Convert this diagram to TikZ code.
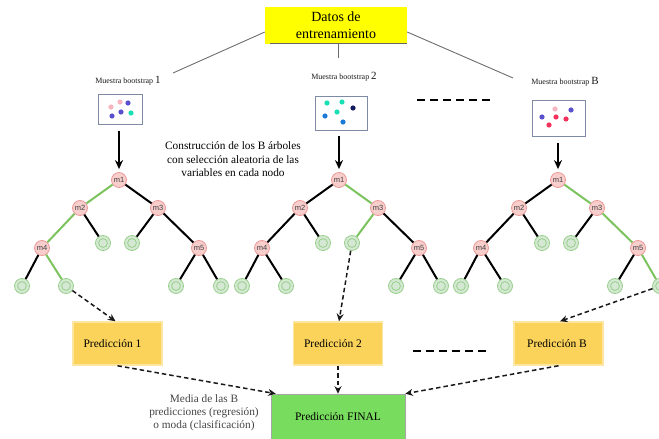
\documentclass[tikz,border=0pt]{standalone}
\usepackage{fontspec}
\setmainfont{Liberation Serif}
\newfontfamily\labelsans{Liberation Sans}
\usetikzlibrary{arrows.meta}

\definecolor{splitfill}{HTML}{F8CECC}
\definecolor{splitline}{HTML}{EA9A98}
\definecolor{leaffill}{HTML}{D5E8D4}
\definecolor{leafline}{HTML}{97D08A}
\definecolor{pathgreen}{HTML}{7CC35E}
\definecolor{datayellow}{HTML}{FFFF00}
\definecolor{predfill}{HTML}{FBD35A}
\definecolor{predline}{HTML}{FCE6A2}
\definecolor{finalgreen}{HTML}{78DC5E}
\definecolor{sampleframe}{HTML}{7F8BA6}
\definecolor{linkgray}{HTML}{6E6E6E}
\definecolor{notegray}{HTML}{444444}
\definecolor{dotpink}{HTML}{F6B5C0}
\definecolor{dotpurple}{HTML}{5A4FCF}
\definecolor{dotteal}{HTML}{1ADFB4}
\definecolor{dotblue}{HTML}{1C7AD6}
\definecolor{dotnavy}{HTML}{121C5E}
\definecolor{dotred}{HTML}{F2325C}

% one decision tree: #1 = name prefix, #2 = horizontal offset
\newcommand{\rftree}[2]{%
  \begin{scope}[xshift=#2pt]
    \node[splitnode] (#1m1) at (119,180) {m1};
    \node[splitnode] (#1m2) at (80,208)  {m2};
    \node[splitnode] (#1m3) at (158,208) {m3};
    \node[splitnode] (#1m4) at (42,248)  {m4};
    \node[splitnode] (#1m5) at (199,248) {m5};
    \node[leafnode]  (#1l1) at (103,243) {};
    \node[leafnode]  (#1l2) at (132,243) {};
    \node[leafnode]  (#1l3) at (22,286)  {};
    \node[leafnode]  (#1l4) at (66,286)  {};
    \node[leafnode]  (#1l5) at (176,286) {};
    \node[leafnode]  (#1l6) at (221,286) {};
  \end{scope}}

\begin{document}
\begin{tikzpicture}[x=1pt,y=-1pt,
  splitnode/.style={circle, minimum size=15pt, inner sep=0pt, fill=splitfill,
    draw=splitline, line width=0.8pt, text=black!75,
    font=\labelsans\fontsize{7.5}{8}\selectfont},
  leafnode/.style={circle, minimum size=15pt, inner sep=0pt, fill=leaffill,
    draw=leafline, line width=0.8pt,
    path picture={\draw[leafline, line width=0.8pt]
      (path picture bounding box.center) circle (4.4pt);}},
  blackedge/.style={draw=black, line width=2pt},
  greenedge/.style={draw=pathgreen, line width=2pt},
  topbox/.style={fill=datayellow, minimum width=142pt, minimum height=37pt,
    inner sep=0pt, align=center, font=\fontsize{14}{17}\selectfont},
  samplebox/.style={draw=sampleframe, line width=1pt, fill=white, inner sep=0pt},
  samplelabel/.style={inner sep=0pt, text=black!90,
    font=\fontsize{8}{9}\selectfont},
  linkline/.style={draw=linkgray, line width=0.9pt},
  bigarrow/.style={draw=black, line width=2pt,
    -{Stealth[length=9pt,width=8pt]}},
  separator/.style={draw=black, line width=2.6pt, dash pattern=on 8pt off 5pt},
  note/.style={align=center, inner sep=0pt, text=black,
    font=\fontsize{11.3}{13.5}\selectfont},
  mediatext/.style={align=center, inner sep=0pt, text=notegray,
    font=\fontsize{11.3}{13}\selectfont},
  predbox/.style={fill=predfill, draw=predline, line width=1.5pt,
    minimum width=89pt, minimum height=43pt, inner sep=0pt,
    font=\fontsize{11.5}{13}\selectfont},
  finalbox/.style={fill=finalgreen, draw=black!35, line width=0.6pt,
    minimum width=134pt, minimum height=45pt, inner sep=0pt,
    font=\fontsize{11.5}{13}\selectfont},
  flow/.style={draw=black!90, line width=1.5pt, dash pattern=on 4.5pt off 3pt,
    -{Stealth[length=7.5pt,width=7pt]}}
]
\useasboundingbox (0,0) rectangle (659,439);
\clip (0,0) rectangle (659,439);

% training data and the three bootstrap samples
\node[topbox] (data) at (336,25) {Datos de\\entrenamiento};
\draw[black!60, line width=1pt] ([xshift=5pt]data.south west) -- (data.south east);

\coordinate (c1) at (173,73);
\coordinate (c2) at (338,58);
\coordinate (cB) at (513,78);
\draw[linkline] ([yshift=-7pt]data.west) -- (c1);
\draw[linkline] (c2 |- data.south) -- (c2);
\draw[linkline] ([yshift=-7pt]data.east) -- (cB);

\node[samplelabel] (lab1) at (128,81) {Muestra bootstrap {\fontsize{11}{11}\selectfont 1}};
\node[samplelabel] (lab2) at (344,77) {Muestra bootstrap {\fontsize{11}{11}\selectfont 2}};
\node[samplelabel] (labB) at (565,82) {Muestra bootstrap {\fontsize{11}{11}\selectfont B}};

\node[samplebox, minimum width=44pt, minimum height=30pt] (s1) at (120,109) {};
\node[samplebox, minimum width=52pt, minimum height=34pt] (s2) at (341,113) {};
\node[samplebox, minimum width=53pt, minimum height=36pt] (sB) at (558.5,118) {};

% points drawn in each sample
\foreach \px/\py/\c in {111/107/dotpink, 120/102/dotpink, 128/103/dotpurple,
    121/112/dotpurple, 131/113/dotteal, 112/116/dotpurple,
    327/103/dotteal, 342/102/dotteal, 353/108/dotnavy,
    325/116/dotblue, 337/112/dotteal, 343/122/dotblue,
    542/117/dotpurple, 555/109/dotpink, 571/110/dotpurple,
    556/117/dotred, 566/119/dotred, 549/125/dotred}
  \fill[\c] (\px,\py) circle (2.6pt);

\coordinate (dA) at (417,100);
\coordinate (dB) at (490,100);
\draw[separator] (dA) -- (dB);

\node[note] (build) at (233,159.5) {Construcción de los B árboles\\con selección aleatoria de las\\variables en cada nodo};

% the B trees
\rftree{t1}{0}
\rftree{t2}{220}
\rftree{t3}{439}

\foreach \a/\b/\s in {m1/m2/greenedge, m1/m3/blackedge, m2/m4/greenedge,
    m2/l1/blackedge, m3/l2/blackedge, m3/m5/blackedge, m4/l3/blackedge,
    m4/l4/greenedge, m5/l5/blackedge, m5/l6/blackedge}
  \draw[\s] (t1\a) -- (t1\b);
\foreach \a/\b/\s in {m1/m2/blackedge, m1/m3/greenedge, m2/m4/blackedge,
    m2/l1/blackedge, m3/l2/greenedge, m3/m5/blackedge, m4/l3/blackedge,
    m4/l4/blackedge, m5/l5/blackedge, m5/l6/blackedge}
  \draw[\s] (t2\a) -- (t2\b);
\foreach \a/\b/\s in {m1/m2/blackedge, m1/m3/greenedge, m2/m4/blackedge,
    m2/l1/blackedge, m3/l2/blackedge, m3/m5/greenedge, m4/l3/blackedge,
    m4/l4/blackedge, m5/l5/blackedge, m5/l6/greenedge}
  \draw[\s] (t3\a) -- (t3\b);

\draw[bigarrow, shorten <=6pt, shorten >=3pt] (s1.south -| t1m1) -- (t1m1.north);
\draw[bigarrow, shorten <=5pt, shorten >=3pt] (s2.south -| t2m1) -- (t2m1.north);
\draw[bigarrow, shorten <=6pt, shorten >=3pt] (sB.south -| t3m1) -- (t3m1.north);

% predictions
\node[predbox] (p1) at (117.5,343.5) {Predicción 1\hspace*{10pt}};
\node[predbox] (p2) at (338,343.5) {Predicción 2\hspace*{10pt}};
\node[predbox] (pB) at (558.5,343.5) {Predicción B\hspace*{3pt}};

\coordinate (eA) at (413,351);
\coordinate (eB) at (486,351);
\draw[separator] (eA) -- (eB);

\node[finalbox] (final) at (338,416.5) {Predicción FINAL};
\node[mediatext] (media) at (204,413) {Media de las B\\predicciones (regresión)\\o moda (clasificación)};

\draw[flow] (t1l4) -- ([xshift=-2pt]p1.north);
\draw[flow] (t2l2) -- ([xshift=1pt]p2.north);
\draw[flow] (t3l6) -- ([xshift=1.5pt]pB.north);
\draw[flow] (p1.south) -- ([xshift=5pt]final.north west);
\draw[flow] (p2.south) -- (final.north);
\draw[flow] (pB.south) -- (final.north east);
\end{tikzpicture}
\end{document}
